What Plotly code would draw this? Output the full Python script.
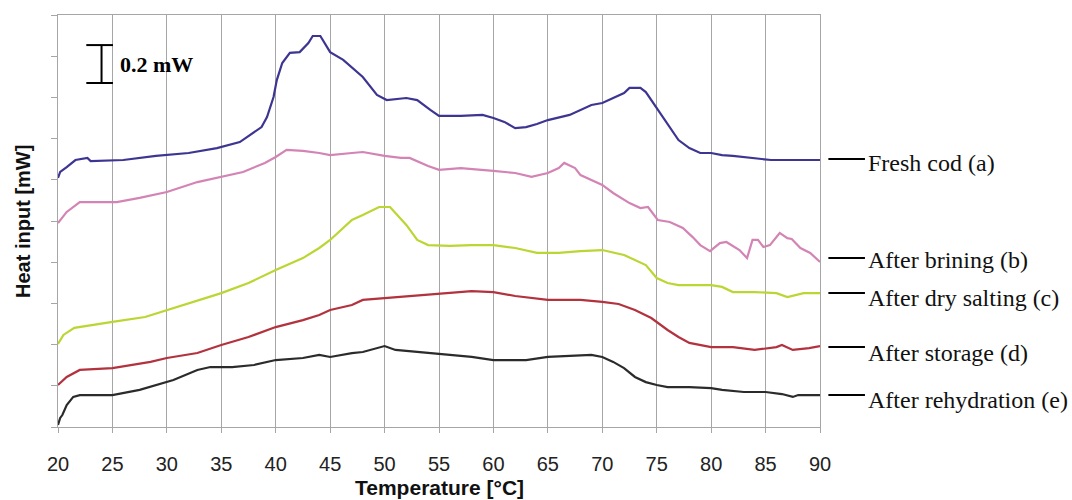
import plotly.graph_objects as go

# Temperature (°C) and heat-input traces (mW, vertically offset curves)
temp_a = [20, 20.2, 20.8, 21.6, 22.7, 23, 26, 29, 32, 34.6, 36.7, 37.9, 38.7, 39.2, 39.8, 40.1, 40.6,
          41.3, 42.2, 43, 43.4, 44.1, 45, 46.2, 48, 49.3, 50.2, 52, 53, 54.2, 55, 57, 59, 60, 61, 62,
          63, 64, 65, 67, 68, 69, 70, 71, 72, 72.5, 73.5, 74, 75, 76, 77, 78, 79, 80, 81, 82, 84, 85.5, 90]
heat_a = [1.209, 1.238, 1.262, 1.296, 1.306, 1.291, 1.296, 1.316, 1.330, 1.354, 1.383, 1.427, 1.456,
          1.505, 1.602, 1.684, 1.767, 1.816, 1.820, 1.864, 1.898, 1.898, 1.820, 1.782, 1.699, 1.612,
          1.587, 1.597, 1.587, 1.539, 1.510, 1.510, 1.515, 1.500, 1.481, 1.451, 1.456, 1.471, 1.490,
          1.515, 1.539, 1.563, 1.573, 1.597, 1.621, 1.646, 1.646, 1.626, 1.549, 1.466, 1.393, 1.354,
          1.330, 1.330, 1.320, 1.316, 1.306, 1.296, 1.296]

temp_b = [20, 20.8, 22, 25.4, 27.5, 30, 32.8, 35, 37, 39, 40, 41, 42.5, 44, 45, 47, 48, 50, 51.5, 52.3,
          54, 55, 57, 60, 62, 63.5, 65, 66, 66.5, 67.5, 68, 70, 71, 72.5, 73.5, 74.2, 75.1, 76.2, 77.4,
          78.3, 79.0, 79.9, 80.8, 81.4, 82.6, 83.3, 83.8, 84.3, 84.8, 85.4, 86.3, 87.0, 87.4, 88.2, 89.1, 90]
heat_b = [0.990, 1.044, 1.092, 1.092, 1.112, 1.141, 1.189, 1.214, 1.238, 1.282, 1.311, 1.345, 1.340,
          1.330, 1.320, 1.330, 1.335, 1.316, 1.306, 1.306, 1.267, 1.248, 1.257, 1.243, 1.233, 1.214,
          1.233, 1.257, 1.282, 1.257, 1.223, 1.175, 1.136, 1.087, 1.063, 1.068, 1.005, 0.995, 0.966,
          0.922, 0.883, 0.854, 0.893, 0.898, 0.859, 0.820, 0.908, 0.908, 0.874, 0.883, 0.942, 0.917,
          0.913, 0.869, 0.845, 0.801]

temp_c = [20, 20.5, 21.5, 23, 25, 28, 30, 33, 35, 37.5, 40, 42.5, 44, 45, 46, 47, 48, 49, 49.5, 50.5,
          51, 52, 53, 54, 56, 58, 60, 62, 64, 66, 68, 70, 72, 73, 74, 75, 76, 77, 78, 80, 81, 82, 84,
          86, 87, 88.5, 90]
heat_c = [0.403, 0.447, 0.481, 0.495, 0.510, 0.534, 0.568, 0.617, 0.650, 0.699, 0.762, 0.820, 0.869,
          0.908, 0.956, 1.005, 1.029, 1.053, 1.068, 1.068, 1.039, 0.981, 0.908, 0.883, 0.879, 0.883,
          0.883, 0.869, 0.845, 0.845, 0.854, 0.859, 0.835, 0.811, 0.786, 0.723, 0.699, 0.689, 0.689,
          0.689, 0.680, 0.655, 0.655, 0.650, 0.631, 0.650, 0.650]

temp_d = [20, 20.8, 22, 25, 28.5, 30, 32.8, 35, 37.5, 40, 42.5, 44, 45, 47, 48, 50, 53, 55, 58, 60,
          62, 65, 68, 70, 71.5, 73, 74.5, 76, 77, 78, 79, 80, 82, 84, 86, 86.5, 87.5, 89, 90]
heat_d = [0.204, 0.243, 0.277, 0.286, 0.316, 0.335, 0.359, 0.398, 0.437, 0.485, 0.519, 0.544, 0.568,
          0.592, 0.617, 0.626, 0.636, 0.646, 0.660, 0.655, 0.636, 0.617, 0.617, 0.607, 0.597, 0.568,
          0.529, 0.471, 0.437, 0.408, 0.398, 0.388, 0.388, 0.374, 0.388, 0.398, 0.374, 0.383, 0.393]

temp_e = [20, 20.2, 20.4, 20.8, 21.4, 22, 25, 27.5, 30.6, 32.8, 34, 36, 38, 40, 42.5, 44, 45, 47, 48,
          49, 50, 51, 53, 55, 58, 60, 63, 65, 67, 69, 70, 71, 72, 73, 74, 75, 76, 78, 80, 81, 83, 85,
          86.5, 87.5, 88, 90]
heat_e = [0.010, 0.044, 0.058, 0.107, 0.146, 0.155, 0.155, 0.180, 0.228, 0.277, 0.291, 0.291, 0.301,
          0.325, 0.335, 0.350, 0.340, 0.359, 0.364, 0.379, 0.393, 0.374, 0.364, 0.354, 0.340, 0.325,
          0.325, 0.340, 0.345, 0.350, 0.340, 0.316, 0.286, 0.243, 0.218, 0.204, 0.194, 0.194, 0.189,
          0.180, 0.170, 0.170, 0.160, 0.146, 0.155, 0.155]

series_names = ["Fresh cod (a)", "After brining (b)", "After dry salting (c)",
                "After storage (d)", "After rehydration (e)"]
series_colors = ["#3d3592", "#d384b4", "#bad633", "#b2323e", "#2b2b2b"]
label_levels = [1.301, 0.820, 0.650, 0.388, 0.155]   # where each label line points (mW)
label_text_levels = [1.282, 0.811, 0.626, 0.359, 0.131]

x_ticks = list(range(20, 95, 5))
y_ticks = [round(0.2 * i, 1) for i in range(11)]

fig = go.Figure()
for t, h, name, col in zip([temp_a, temp_b, temp_c, temp_d, temp_e],
                           [heat_a, heat_b, heat_c, heat_d, heat_e],
                           series_names, series_colors):
    fig.add_trace(go.Scatter(x=t, y=h, mode="lines", name=name,
                             line=dict(color=col, width=2.2), showlegend=False))

# right-hand labels with short black leader lines
for lvl, tlvl, name in zip(label_levels, label_text_levels, series_names):
    fig.add_shape(type="line", xref="paper", yref="paper",
                  x0=1.011, x1=1.059, y0=lvl / 2.0, y1=lvl / 2.0,
                  line=dict(color="black", width=2))
    fig.add_annotation(x=1.061, y=tlvl / 2.0, xref="paper", yref="paper",
                       text=name, showarrow=False, xanchor="left", yanchor="middle",
                       font=dict(family="Liberation Serif", size=24, color="#111"))

# scale bar (0.2 mW)
bar_x, bar_x0, bar_x1 = 24.0, 22.6, 25.05
bar_y0, bar_y1 = 1.670, 1.854
fig.add_shape(type="line", x0=bar_x, x1=bar_x, y0=bar_y0, y1=bar_y1, line=dict(color="black", width=2))
fig.add_shape(type="line", x0=bar_x0, x1=bar_x1, y0=bar_y0, y1=bar_y0, line=dict(color="black", width=2))
fig.add_shape(type="line", x0=bar_x0, x1=bar_x1, y0=bar_y1, y1=bar_y1, line=dict(color="black", width=2))
fig.add_annotation(x=25.5, y=(bar_y0 + bar_y1) / 2, text="<b>0.2 mW</b>", showarrow=False,
                   xanchor="left", yanchor="middle",
                   font=dict(family="Liberation Serif", size=22, color="black"))

# axis titles
fig.add_annotation(x=0.5, y=-0.146, xref="paper", yref="paper", text="<b>Temperature [°C]</b>",
                   showarrow=False, xanchor="center", yanchor="middle",
                   font=dict(family="Liberation Sans", size=21, color="#111"))
fig.add_annotation(x=-0.046, y=0.5, xref="paper", yref="paper", text="<b>Heat input [mW]</b>",
                   showarrow=False, xanchor="center", yanchor="middle", textangle=-90,
                   font=dict(family="Liberation Sans", size=20, color="#111"))

fig.update_xaxes(range=[20, 90], tickvals=x_ticks, showgrid=True, gridcolor="#a6a6a6", gridwidth=1,
                 showline=True, linecolor="#a6a6a6", linewidth=1, mirror=True,
                 ticks="outside", ticklen=5, tickcolor="#a6a6a6", zeroline=False,
                 ticklabelstandoff=14, automargin=False,
                 tickfont=dict(family="Liberation Sans", size=20, color="#222"))
fig.update_yaxes(range=[0, 2.0], tickvals=y_ticks, showticklabels=False, showgrid=False,
                 showline=True, linecolor="#a6a6a6", linewidth=1, mirror=True,
                 ticks="outside", ticklen=6, tickcolor="#a6a6a6", zeroline=False,
                 automargin=False)

fig.update_layout(width=1072, height=500, margin=dict(l=58, r=252, t=15, b=73),
                  paper_bgcolor="white", plot_bgcolor="white")

fig.write_html("out.html")
